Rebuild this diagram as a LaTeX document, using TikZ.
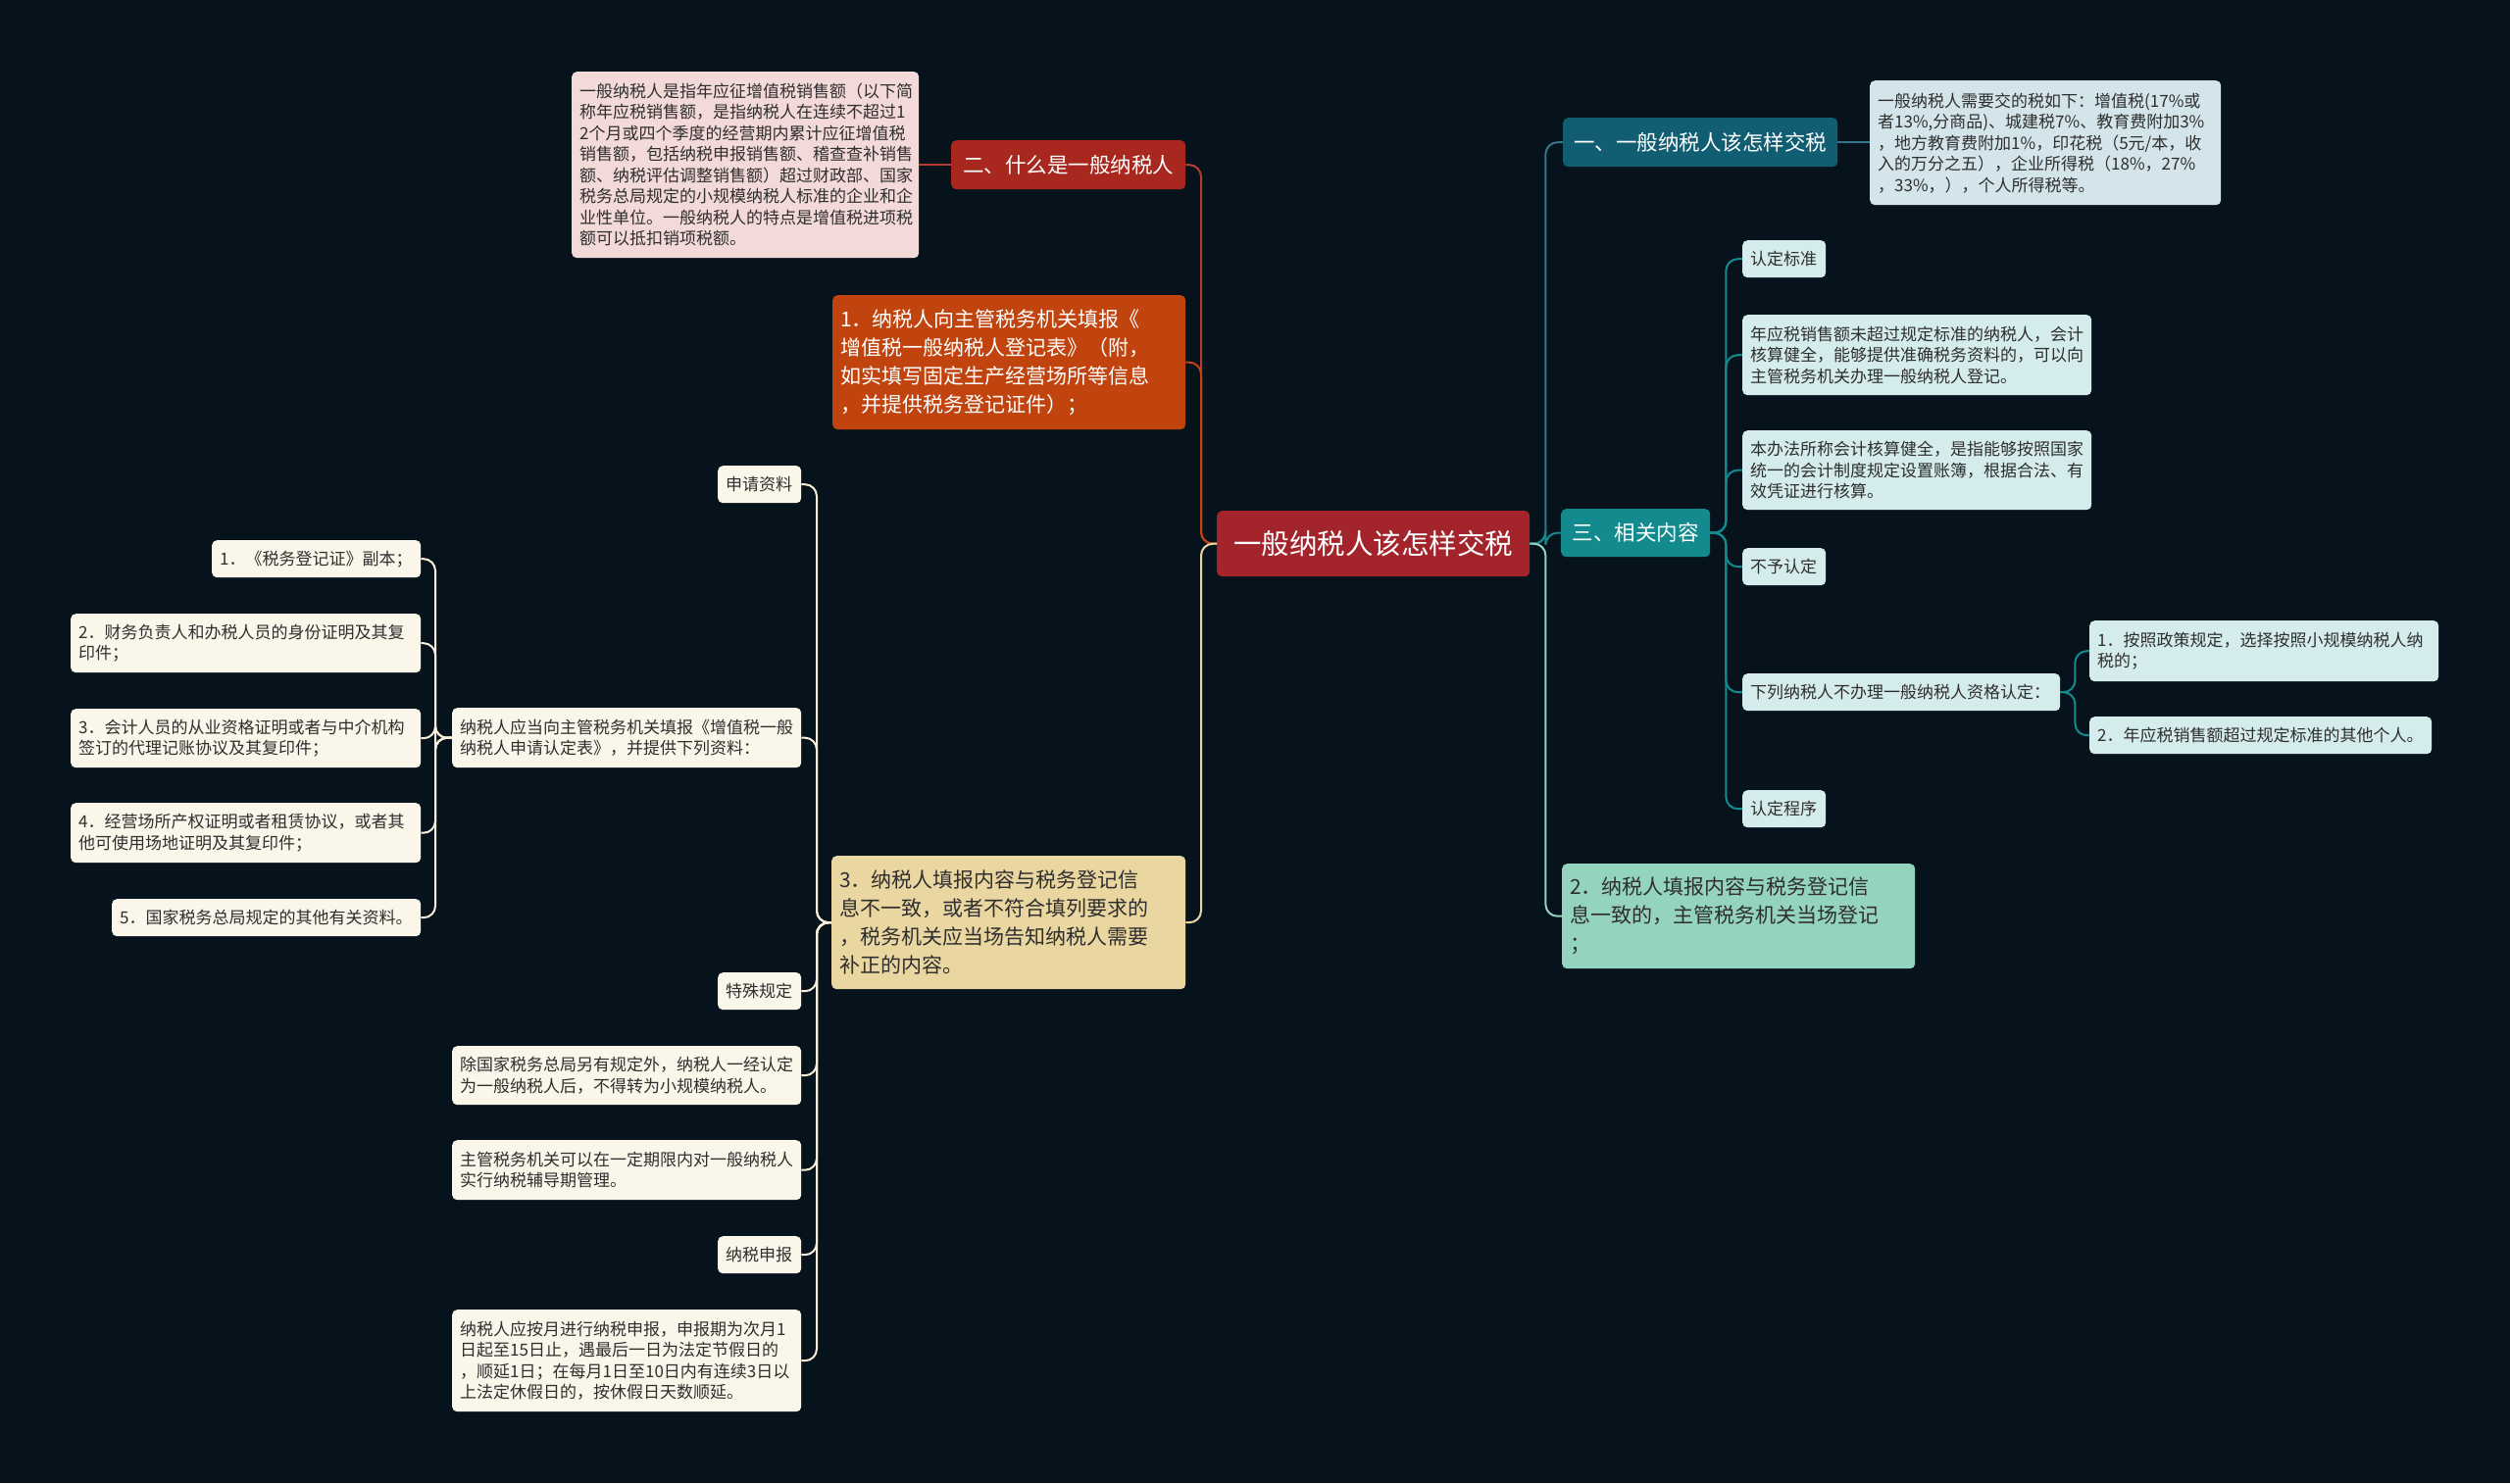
\documentclass[tikz,border=0pt]{standalone}
\usepackage{fontspec}
\newfontfamily\cjk{Noto Sans CJK SC}
\usetikzlibrary{positioning}

\definecolor{bgcol}{HTML}{07131C}
\definecolor{rootred}{HTML}{A3242B}
\definecolor{headred}{HTML}{A8281F}
\definecolor{orangefill}{HTML}{C1440E}
\definecolor{pinkfill}{HTML}{F3D9D8}
\definecolor{beigefill}{HTML}{EAD6A1}
\definecolor{creamfill}{HTML}{FBF6EA}
\definecolor{navyfill}{HTML}{115E73}
\definecolor{paleblue}{HTML}{D3E5EA}
\definecolor{tealfill}{HTML}{138A8E}
\definecolor{cyanfill}{HTML}{D5ECEC}
\definecolor{greenfill}{HTML}{94D3BE}
\definecolor{darktext}{HTML}{2E2E2E}

\newcommand{\cnsmall}{\cjk\fontsize{17}{21.5}\selectfont}
\newcommand{\cnmid}{\cjk\fontsize{21}{29}\selectfont}
\newcommand{\cnhead}{\cjk\fontsize{21.5}{26}\selectfont}
\newcommand{\cnroot}{\cjk\fontsize{28.5}{34}\selectfont}

\tikzset{
        mapbox/.style={rounded corners=5pt, inner xsep=8pt, inner ysep=2pt, anchor=north west, align=left},
        % root and first level heads
        rootbox/.style={mapbox, fill=rootred, text=white, font=\cnroot, align=center},
        headbox/.style={mapbox, text=white, font=\cnhead, align=center},
        % big text boxes
        midbox/.style={mapbox, text=darktext, font=\cnmid},
        % small leaves
        leaf/.style={mapbox, text=darktext, font=\cnsmall},
        cream/.style={leaf, fill=creamfill},
        cyan/.style={leaf, fill=cyanfill},
        % connectors
        link/.style={line width=2pt, rounded corners=12pt},
        redline/.style={link, draw=headred!90!white},
        orangeline/.style={link, draw=orangefill},
        yellowline/.style={link, draw=beigefill},
        creamline/.style={link, draw=creamfill!80!beigefill},
        navyline/.style={link, draw=navyfill!85!white},
        tealline/.style={link, draw=tealfill},
        greenline/.style={link, draw=greenfill}
}

\begin{document}
\begin{tikzpicture}[x=1pt, y=-1pt]
\fill[bgcol] (0,0) rectangle (2560,1513);
\useasboundingbox (0,0) rectangle (2560,1513);

% root
\node[rootbox, minimum width=319pt, minimum height=67pt] (root) at (1241,521) {一般纳税人该怎样交税};

% left side
\node[headbox, fill=headred, minimum width=239pt, minimum height=50pt] (what) at (970,143) {二、什么是一般纳税人};
\node[leaf, fill=pinkfill, text width=338pt, minimum height=190pt] (whatdef) at (583,73) {一般纳税人是指年应征增值税销售额（以下简\\称年应税销售额，是指纳税人在连续不超过1\\2个月或四个季度的经营期内累计应征增值税\\销售额，包括纳税申报销售额、稽查查补销售\\额、纳税评估调整销售额）超过财政部、国家\\税务总局规定的小规模纳税人标准的企业和企\\业性单位。一般纳税人的特点是增值税进项税\\额可以抵扣销项税额。};
\node[midbox, fill=orangefill, text=white, text width=344pt, minimum height=137pt] (stepone) at (849,301) {1．纳税人向主管税务机关填报《\\增值税一般纳税人登记表》（附，\\如实填写固定生产经营场所等信息\\，并提供税务登记证件）；};
\node[midbox, fill=beigefill, text width=345pt, minimum height=136pt] (stepthree) at (848,873) {3．纳税人填报内容与税务登记信\\息不一致，或者不符合填列要求的\\，税务机关应当场告知纳税人需要\\补正的内容。};

\node[cream, text width=69pt, minimum height=38pt] (apply) at (732,475) {申请资料};
\node[cream, text width=340pt, minimum height=61pt] (applyform) at (461,722) {纳税人应当向主管税务机关填报《增值税一般\\纳税人申请认定表》，并提供下列资料：};
\node[cream, text width=197pt, minimum height=38pt] (docone) at (216,551) {1．《税务登记证》副本；};
\node[cream, text width=341pt, minimum height=60pt] (doctwo) at (72,626) {2．财务负责人和办税人员的身份证明及其复\\印件；};
\node[cream, text width=341pt, minimum height=60pt] (docthree) at (72,723) {3．会计人员的从业资格证明或者与中介机构\\签订的代理记账协议及其复印件；};
\node[cream, text width=341pt, minimum height=61pt] (docfour) at (72,819) {4．经营场所产权证明或者租赁协议，或者其\\他可使用场地证明及其复印件；};
\node[cream, text width=299pt, minimum height=38pt] (docfive) at (114,917) {5．国家税务总局规定的其他有关资料。};
\node[cream, text width=69pt, minimum height=38pt] (special) at (732,992) {特殊规定};
\node[cream, text width=340pt, minimum height=60pt] (specone) at (461,1067) {除国家税务总局另有规定外，纳税人一经认定\\为一般纳税人后，不得转为小规模纳税人。};
\node[cream, text width=340pt, minimum height=61pt] (spectwo) at (461,1163) {主管税务机关可以在一定期限内对一般纳税人\\实行纳税辅导期管理。};
\node[cream, text width=69pt, minimum height=38pt] (declare) at (732,1261) {纳税申报};
\node[cream, text width=340pt, minimum height=104pt] (declone) at (461,1336) {纳税人应按月进行纳税申报，申报期为次月1\\日起至15日止，遇最后一日为法定节假日的\\，顺延1日；在每月1日至10日内有连续3日以\\上法定休假日的，按休假日天数顺延。};

% right side
\node[headbox, fill=navyfill, minimum width=280pt, minimum height=50pt] (how) at (1594,120) {一、一般纳税人该怎样交税};
\node[leaf, fill=paleblue, text width=342pt, minimum height=127pt] (taxes) at (1907,82) {一般纳税人需要交的税如下：增值税(17\%或\\者13\%,分商品)、城建税7\%、教育费附加3\%\\，地方教育费附加1\%，印花税（5元/本，收\\入的万分之五），企业所得税（18\%，27\%\\，33\%，），个人所得税等。};
\node[headbox, fill=tealfill, minimum width=152pt, minimum height=49pt] (related) at (1592,519) {三、相关内容};
\node[cyan, text width=69pt, minimum height=38pt] (crit) at (1777,245) {认定标准};
\node[cyan, text width=340pt, minimum height=82pt] (critone) at (1777,321) {年应税销售额未超过规定标准的纳税人，会计\\核算健全，能够提供准确税务资料的，可以向\\主管税务机关办理一般纳税人登记。};
\node[cyan, text width=340pt, minimum height=81pt] (crittwo) at (1777,439) {本办法所称会计核算健全，是指能够按照国家\\统一的会计制度规定设置账簿，根据合法、有\\效凭证进行核算。};
\node[cyan, text width=69pt, minimum height=38pt] (deny) at (1777,559) {不予认定};
\node[cyan, text width=308pt, minimum height=38pt] (denylist) at (1777,687) {下列纳税人不办理一般纳税人资格认定：};
\node[cyan, text width=340pt, minimum height=62pt] (denyone) at (2131,633) {1．按照政策规定，选择按照小规模纳税人纳\\税的；};
\node[cyan, text width=333pt, minimum height=38pt] (denytwo) at (2131,731) {2．年应税销售额超过规定标准的其他个人。};
\node[cyan, text width=69pt, minimum height=38pt] (proc) at (1777,806) {认定程序};
\node[midbox, fill=greenfill, text width=344pt, minimum height=107pt] (steptwo) at (1593,881) {2．纳税人填报内容与税务登记信\\息一致的，主管税务机关当场登记\\；};

% left links
\draw[redline] (root.west) -- ++(-16,0) |- (what.east);
\draw[redline] (what.west) -- (whatdef.east |- what.west);
\draw[orangeline] (root.west) -- ++(-16,0) |- (stepone.east);
\draw[yellowline] (root.west) -- ++(-16,0) |- (stepthree.east);
\foreach \n in {apply,applyform,special,specone,spectwo,declare,declone}
        \draw[creamline] (stepthree.west) -- ++(-15,0) |- (\n.east);
\foreach \n in {docone,doctwo,docthree,docfour,docfive}
        \draw[creamline] (applyform.west) -- ++(-17,0) |- (\n.east);

% right links
\draw[navyline] (root.east) -- ++(16,0) |- (how.west);
\draw[navyline] (how.east) -- (taxes.west |- how.east);
\draw[tealline] (root.east) -- ++(16,0) |- (related.west);
\draw[greenline] (root.east) -- ++(16,0) |- (steptwo.west);
\foreach \n in {crit,critone,crittwo,deny,denylist,proc}
        \draw[tealline] (related.east) -- ++(16,0) |- (\n.west);
\foreach \n in {denyone,denytwo}
        \draw[tealline] (denylist.east) -- ++(15,0) |- (\n.west);
\end{tikzpicture}
\end{document}
